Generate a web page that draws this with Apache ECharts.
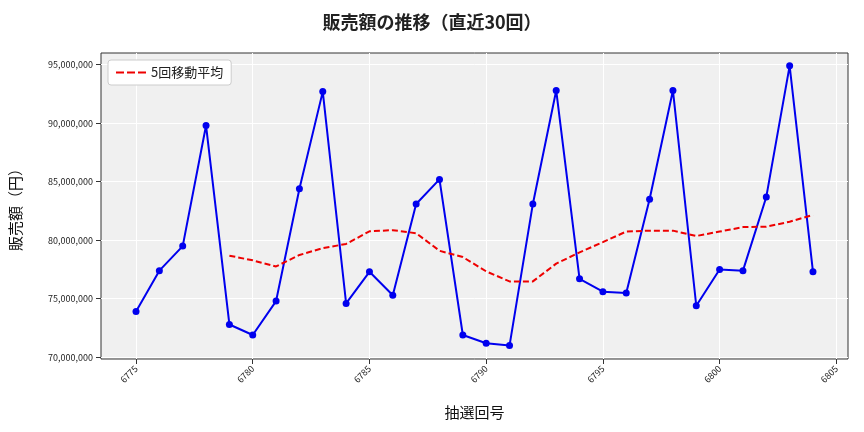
<!DOCTYPE html>
<html><head><meta charset="utf-8">
<script src="https://cdn.jsdelivr.net/npm/echarts@6/dist/echarts.min.js"></script>
<style>html,body{margin:0;padding:0;background:#fff}#c{width:864px;height:432px}</style>
</head><body><div id="c"></div>
<script>
const draws = [6775,6776,6777,6778,6779,6780,6781,6782,6783,6784,6785,6786,6787,6788,6789,6790,6791,6792,6793,6794,6795,6796,6797,6798,6799,6800,6801,6802,6803,6804];
const sales = [73.9,77.4,79.5,89.8,72.8,71.9,74.8,84.4,92.7,74.6,77.3,75.3,83.1,85.2,71.9,71.2,71.0,83.1,92.8,76.7,75.6,75.5,83.5,92.8,74.4,77.5,77.4,83.7,94.9,77.3];
const ma5 = [null,null,null,null,78.68,78.28,77.76,78.74,79.32,79.68,80.76,80.86,80.6,79.1,78.56,77.34,76.48,76.48,78.0,78.96,79.84,80.74,80.82,80.82,80.36,80.74,81.12,81.16,81.58,82.16];
const xTicks = [6775,6780,6785,6790,6795,6800,6805];
const yTicks = [70,75,80,85,90,95];
const F = 'Noto Sans CJK JP';
const chart = echarts.init(document.getElementById('c'));
chart.setOption({
  animation:false,
  textStyle:{fontFamily:F},
  title:{text:'販売額の推移（直近30回）',left:'center',top:8,textStyle:{fontFamily:F,fontSize:18,fontWeight:'bold',color:'#222'}},
  legend:{left:108,top:60,orient:'vertical',backgroundColor:'#fff',borderColor:'#ccc',borderWidth:1,borderRadius:3,padding:[6,8],
    itemWidth:30,textStyle:{fontFamily:F,fontSize:13,color:'#222'},data:[{name:'5回移動平均',icon:'path://M0,0h8v2h-8zM11,0h8v2h-8zM22,0h8v2h-8z'}]},
  grid:{left:100,right:16,top:53,bottom:73,backgroundColor:'#f0f0f0',show:true,borderWidth:1,borderColor:'#333'},
  xAxis:{type:'value',min:6773.5,max:6805.5,name:'抽選回号',nameLocation:'middle',nameGap:46,nameTextStyle:{fontFamily:F,fontSize:15,color:'#111'},
    axisLine:{show:false},
    axisTick:{show:true,customValues:xTicks,lineStyle:{color:'#333'}},
    axisLabel:{customValues:xTicks,rotate:45,fontSize:9,color:'#222',fontFamily:F,formatter:v=>String(v)},
    splitLine:{show:true,lineStyle:{color:'#fff',width:1}}},
  yAxis:{type:'value',min:69.85,max:96.0,name:'販売額（円）',nameLocation:'middle',nameGap:78,nameTextStyle:{fontFamily:F,fontSize:15,color:'#111'},
    axisLine:{show:false},axisTick:{show:true,customValues:yTicks,lineStyle:{color:'#333'}},
    axisLabel:{customValues:yTicks,fontSize:9,color:'#222',fontFamily:F,formatter:v=>(Math.round(v*1e6)).toLocaleString('en-US')},
    splitLine:{show:true,lineStyle:{color:'#fff',width:1}}},
  series:[
    {name:'販売額',type:'line',data:draws.map((d,i)=>[d,sales[i]]),symbol:'circle',symbolSize:7,
     lineStyle:{color:'#0000ee',width:2},itemStyle:{color:'#0000ee'}},
    {name:'5回移動平均',type:'line',data:draws.map((d,i)=>[d,ma5[i]]),symbol:'none',
     lineStyle:{color:'#ee0000',width:2,type:[6,3]},itemStyle:{color:'#ee0000'}}
  ]
});
</script></body></html>
